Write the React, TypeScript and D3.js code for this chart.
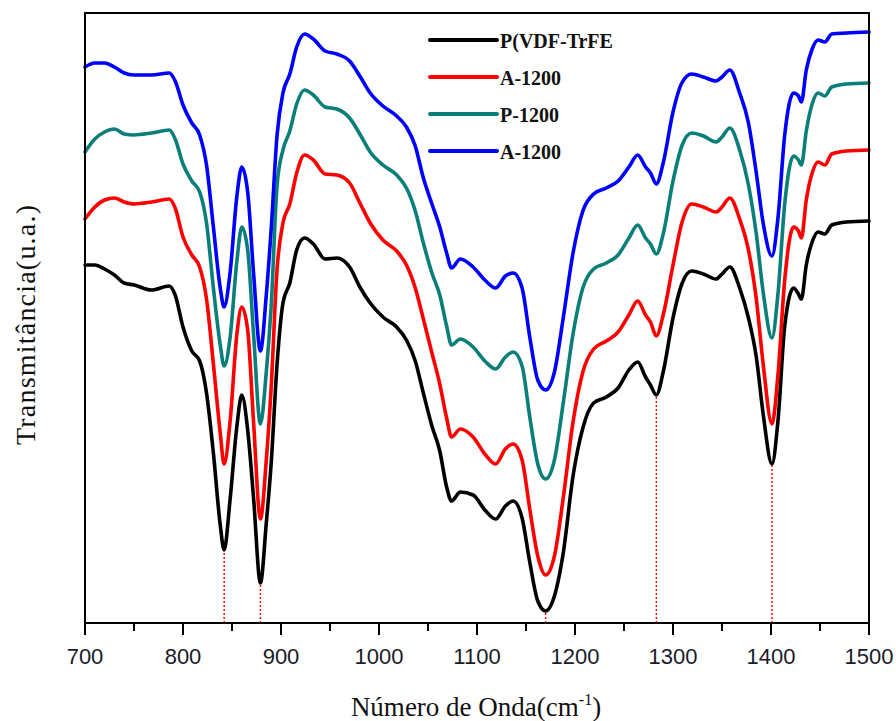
import React from "react";
import * as d3 from "d3";

// Wavenumber grid (cm^-1) shared by all spectra
const wavenumbers = [
  700, 710, 720, 730, 740, 750, 768, 786, 792, 800,
  809, 817, 824, 831, 838, 842, 848, 855, 860, 866,
  872, 879, 885, 890, 896, 902, 909, 916, 924, 933,
  945, 957, 970, 981, 991, 1004, 1018, 1028, 1037, 1045,
  1054, 1062, 1069, 1074, 1083, 1096, 1108, 1119, 1129, 1137,
  1146, 1154, 1162, 1170, 1179, 1188, 1198, 1208, 1219, 1232,
  1244, 1255, 1264, 1272, 1277, 1283, 1290, 1300, 1309, 1319,
  1331, 1344, 1350, 1358, 1368, 1377, 1385, 1392, 1401, 1407,
  1414, 1423, 1428, 1431, 1436, 1442, 1448, 1455, 1462, 1477,
  1500,
];

// Transmittance (arbitrary units, stacked with offsets)
const pvdfTrfe = [
  35.8, 35.8, 35.4, 34.8, 34.0, 33.8, 33.3, 33.7, 32.8, 29.6,
  27.2, 26.2, 23.0, 17.0, 9.8, 7.3, 12.3, 19.7, 22.8, 19.3,
  12.5, 4.0, 10.0, 16.0, 25.9, 32.0, 34.0, 37.3, 38.5, 37.9,
  36.4, 36.5, 35.6, 33.5, 32.0, 30.6, 29.6, 28.3, 26.2, 23.1,
  19.7, 17.2, 13.6, 12.2, 13.1, 12.8, 11.3, 10.4, 11.7, 12.2,
  10.5, 6.0, 2.2, 1.2, 2.7, 7.0, 14.7, 19.5, 22.0, 22.6,
  23.5, 25.3, 26.1, 24.6, 23.8, 22.8, 25.1, 30.5, 33.9, 35.2,
  34.9, 34.4, 34.9, 35.6, 33.5, 30.5, 26.6, 20.9, 15.9, 20.1,
  29.7, 33.5, 32.9, 32.4, 35.8, 38.1, 39.1, 38.9, 39.8, 40.1,
  40.2,
];

const a1200 = [
  40.4, 41.6, 42.3, 42.5, 42.1, 41.9, 42.1, 42.4, 41.5, 38.6,
  36.8, 35.6, 32.4, 25.9, 19.0, 15.9, 20.1, 28.9, 31.6, 29.3,
  20.1, 10.4, 16.3, 23.6, 35.4, 40.0, 41.9, 45.0, 46.8, 46.3,
  44.9, 44.8, 44.0, 41.9, 40.0, 38.3, 37.2, 35.8, 33.5, 30.5,
  27.0, 23.9, 20.5, 18.6, 19.4, 18.6, 16.9, 15.9, 17.4, 17.9,
  16.3, 11.3, 6.7, 4.8, 6.7, 12.5, 20.1, 25.1, 27.4, 28.2,
  29.1, 30.8, 32.2, 30.8, 30.1, 28.7, 30.8, 35.8, 40.0, 41.9,
  41.6, 41.1, 41.6, 42.5, 40.4, 37.3, 32.4, 25.9, 19.9, 24.7,
  34.3, 39.6, 39.2, 38.5, 42.3, 45.0, 46.1, 45.8, 46.9, 47.2,
  47.3,
];

const p1200 = [
  47.1, 48.4, 49.1, 49.4, 48.9, 48.8, 49.0, 49.3, 48.4, 45.9,
  44.2, 43.1, 40.0, 33.5, 27.8, 25.7, 28.5, 36.2, 39.6, 37.3,
  28.9, 19.9, 25.1, 31.7, 43.8, 47.3, 49.2, 51.9, 53.3, 52.8,
  51.6, 51.4, 50.5, 48.8, 47.1, 45.8, 44.8, 43.5, 41.2, 38.1,
  35.0, 32.8, 29.7, 27.8, 28.4, 27.6, 26.2, 25.4, 26.6, 27.1,
  25.7, 20.5, 15.9, 14.4, 16.3, 22.0, 28.9, 33.5, 35.4, 36.0,
  36.8, 38.5, 39.8, 38.5, 37.9, 36.9, 38.9, 44.2, 47.7, 49.0,
  48.7, 48.1, 48.6, 49.5, 47.3, 43.8, 38.9, 33.1, 28.5, 32.8,
  41.9, 46.7, 46.3, 45.8, 49.2, 51.9, 53.0, 52.7, 53.6, 53.9,
  54.0,
];

const a1200b = [
  55.6, 56.0, 56.0, 55.6, 55.0, 54.8, 54.8, 55.0, 54.2, 51.8,
  50.0, 48.8, 45.8, 39.6, 33.5, 31.6, 35.0, 42.7, 45.6, 43.1,
  35.0, 27.2, 32.8, 39.4, 48.8, 53.0, 54.9, 57.6, 58.9, 58.4,
  57.2, 56.9, 56.2, 54.6, 53.0, 51.7, 50.7, 49.6, 47.7, 44.6,
  41.9, 39.6, 37.0, 35.5, 36.4, 35.6, 34.3, 33.5, 34.7, 35.0,
  33.5, 28.5, 24.3, 23.3, 25.1, 30.5, 37.0, 41.2, 42.9, 43.5,
  44.2, 45.6, 46.8, 45.6, 45.0, 43.9, 46.0, 51.1, 54.0, 54.9,
  54.6, 54.2, 54.6, 55.3, 53.0, 50.0, 45.0, 40.0, 36.7, 40.4,
  48.8, 53.0, 52.7, 52.1, 55.3, 57.4, 58.3, 58.1, 58.9, 59.0,
  59.1,
];

const seriesNames = ["P(VDF-TrFE", "A-1200", "P-1200", "A-1200"];
const seriesColors = ["#000000", "#ff0000", "#0a7f7a", "#0000ff"];
const seriesValues = [pvdfTrfe, a1200, p1200, a1200b];

// Band positions marked with dotted guides on the reference spectrum
const bandMarkers = [842, 879, 1170, 1283, 1401];

const xTicksMajor = [700, 800, 900, 1000, 1100, 1200, 1300, 1400, 1500];
const xTicksMinor = [750, 850, 950, 1050, 1150, 1250, 1350, 1450];

const W = 896;
const H = 721;
const margin = { left: 85, right: 27, top: 13, bottom: 98 };

export default function App() {
  const x = d3
    .scaleLinear()
    .domain([700, 1500])
    .range([margin.left, W - margin.right]);
  const y = d3
    .scaleLinear()
    .domain([0, 61])
    .range([H - margin.bottom, margin.top]);

  const line = d3
    .line<[number, number]>()
    .x((d) => x(d[0]))
    .y((d) => y(d[1]))
    .curve(d3.curveMonotoneX);

  const x0 = margin.left;
  const x1 = W - margin.right;
  const y0 = margin.top;
  const y1 = H - margin.bottom;

  const valueAt = (arr: number[], w: number) => arr[wavenumbers.indexOf(w)];

  const legendX0 = 430;
  const legendX1 = 497;
  const legendY = [40, 77, 114, 151];

  return (
    <svg
      width={W}
      height={H}
      style={{ position: "absolute", left: 0, top: 0, background: "#fff" }}
    >
      {/* dotted band guides */}
      {bandMarkers.map((w) => (
        <line
          key={"m" + w}
          x1={x(w)}
          x2={x(w)}
          y1={y1}
          y2={y(valueAt(pvdfTrfe, w))}
          stroke="#ff0000"
          strokeWidth={1.4}
          strokeDasharray="2,2"
        />
      ))}

      {/* spectra */}
      {seriesValues.map((vals, si) => (
        <path
          key={"s" + si}
          d={line(wavenumbers.map((w, i) => [w, vals[i]] as [number, number])) || ""}
          fill="none"
          stroke={seriesColors[si]}
          strokeWidth={3.6}
          strokeLinejoin="round"
          strokeLinecap="round"
        />
      ))}

      {/* frame */}
      <rect
        x={x0}
        y={y0}
        width={x1 - x0}
        height={y1 - y0}
        fill="none"
        stroke="#000"
        strokeWidth={2}
      />

      {/* x ticks */}
      {xTicksMajor.map((t) => (
        <g key={"t" + t}>
          <line x1={x(t)} x2={x(t)} y1={y1} y2={y1 + 12} stroke="#000" strokeWidth={2} />
          <text
            x={x(t)}
            y={664}
            textAnchor="middle"
            fontFamily="'Liberation Sans', Arial, sans-serif"
            fontSize={22}
            fill="#1b1b2a"
          >
            {t}
          </text>
        </g>
      ))}
      {xTicksMinor.map((t) => (
        <line key={"mt" + t} x1={x(t)} x2={x(t)} y1={y1} y2={y1 + 8} stroke="#000" strokeWidth={2} />
      ))}

      {/* axis titles */}
      <text
        x={476}
        y={716}
        textAnchor="middle"
        fontFamily="'Liberation Serif', 'Times New Roman', serif"
        fontSize={27}
        fill="#111"
      >
        Número de Onda(cm
        <tspan fontSize={16} dy={-11}>-1</tspan>
        <tspan dy={11}>)</tspan>
      </text>
      <text
        transform="translate(35,325) rotate(-90)"
        textAnchor="middle"
        fontFamily="'Liberation Serif', 'Times New Roman', serif"
        fontSize={28}
        textLength={240}
        lengthAdjust="spacing"
        fill="#111"
      >
        Transmitância(u.a.)
      </text>

      {/* legend */}
      {seriesNames.map((name, i) => (
        <g key={"l" + i}>
          <line
            x1={legendX0}
            x2={legendX1}
            y1={legendY[i]}
            y2={legendY[i]}
            stroke={seriesColors[i]}
            strokeWidth={4}
            strokeLinecap="round"
          />
          <text
            x={legendX1 + 3}
            y={legendY[i] + 8}
            fontFamily="'Liberation Serif', 'Times New Roman', serif"
            fontWeight="bold"
            fontSize={20}
            fill="#111"
          >
            {name}
          </text>
        </g>
      ))}
    </svg>
  );
}
